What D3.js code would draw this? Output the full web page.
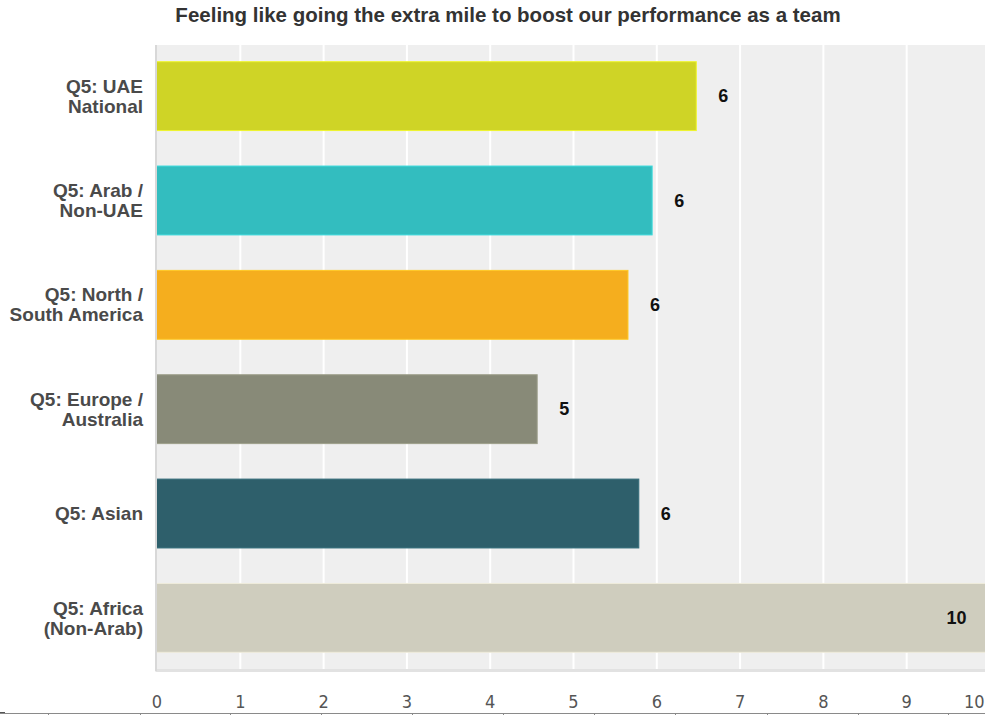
<!DOCTYPE html>
<html>
<head>
<meta charset="utf-8">
<script src="https://cdn.jsdelivr.net/npm/d3@7"></script>
<style>
  html, body { margin: 0; padding: 0; background: #fff; }
  svg { display: block; }
</style>
</head>
<body>
<script>
// Survey answers per respondent group
const categories = [
  ["Q5: UAE", "National"],
  ["Q5: Arab /", "Non-UAE"],
  ["Q5: North /", "South America"],
  ["Q5: Europe /", "Australia"],
  ["Q5: Asian"],
  ["Q5: Africa", "(Non-Arab)"]
];
const values = [6.48, 5.95, 5.66, 4.57, 5.79, 10];
const barColors = ["#cfd426", "#33bdbf", "#f5ae1e", "#888a78", "#2e5f6b", "#cfcdbe"];
const tickValues = [0, 1, 2, 3, 4, 5, 6, 7, 8, 9, 10];
const title = "Feeling like going the extra mile to boost our performance as a team";

const W = 985, H = 715;
const plot = { left: 156.5, right: 989.5, top: 45, bottom: 669 };

const svg = d3.select("body").append("svg").attr("width", W).attr("height", H);

const x = d3.scaleLinear().domain([0, 10]).range([plot.left, plot.right]);
const y = d3.scaleBand()
  .domain(d3.range(categories.length))
  .range([plot.top, plot.bottom])
  .paddingInner(0.34)
  .paddingOuter(0.16);

// drop shadow under the plot panel
svg.append("rect")
  .attr("x", plot.left - 1).attr("y", plot.top)
  .attr("width", plot.right - plot.left + 1).attr("height", plot.bottom - plot.top + 3)
  .attr("fill", "#e2e2e2");

// plot panel
svg.append("rect")
  .attr("x", plot.left).attr("y", plot.top)
  .attr("width", plot.right - plot.left).attr("height", plot.bottom - plot.top)
  .attr("fill", "#efefef");

// vertical gridlines
svg.append("g")
  .attr("transform", `translate(0,${plot.top})`)
  .call(d3.axisTop(x).tickValues(tickValues.slice(1)).tickSize(-(plot.bottom - plot.top)).tickFormat(""))
  .call(g => g.select(".domain").remove())
  .call(g => g.selectAll(".tick line").attr("stroke", "#ffffff").attr("stroke-width", 2));

// bars
svg.append("g").selectAll("rect")
  .data(values)
  .join("rect")
  .attr("x", x(0))
  .attr("y", (d, i) => y(i))
  .attr("width", d => x(d) - x(0))
  .attr("height", y.bandwidth())
  .attr("fill", (d, i) => barColors[i])
  .attr("stroke", (d, i) => d3.color(barColors[i]).brighter(0.4))
  .attr("stroke-width", 1);

// left edge of the panel
svg.append("line")
  .attr("x1", plot.left - 0.5).attr("x2", plot.left - 0.5)
  .attr("y1", plot.top).attr("y2", plot.bottom + 2)
  .attr("stroke", "#d8d8d8").attr("stroke-width", 2);

// value labels
svg.append("g").selectAll("text")
  .data(values)
  .join("text")
  .attr("x", d => d >= 9.5 ? x(d) - 23 : x(d) + 22)
  .attr("y", (d, i) => y(i) + y.bandwidth() / 2)
  .attr("dy", "0.35em")
  .attr("text-anchor", d => d >= 9.5 ? "end" : "start")
  .attr("font-family", "Liberation Sans, Arial, sans-serif")
  .attr("font-weight", "bold")
  .attr("font-size", 18)
  .attr("fill", "#111")
  .text(d => d3.format(".0f")(d));

// category labels
const catG = svg.append("g").selectAll("text")
  .data(categories)
  .join("text")
  .attr("x", 143)
  .attr("y", (d, i) => y(i) + y.bandwidth() / 2 - (d.length - 1) * 10)
  .attr("text-anchor", "end")
  .attr("font-family", "Liberation Sans, Arial, sans-serif")
  .attr("font-weight", "bold")
  .attr("font-size", 19)
  .attr("fill", "#4a4a4a");
catG.selectAll("tspan")
  .data(d => d)
  .join("tspan")
  .attr("x", 143)
  .attr("dy", (d, j) => j === 0 ? "0.35em" : 20)
  .text(d => d);

// x-axis tick labels; the last one is kept inside the page edge
svg.append("g")
  .attr("transform", `translate(0,${plot.bottom})`)
  .call(d3.axisBottom(x).tickValues(tickValues).tickSize(0).tickPadding(26).tickFormat(d3.format("d")))
  .call(g => g.select(".domain").remove())
  .call(g => g.selectAll("text")
    .attr("font-family", "Liberation Sans Narrow, DejaVu Sans Condensed, Arial, sans-serif")
    .attr("font-size", 18)
    .attr("fill", "#555"))
  .call(g => g.selectAll(".tick")
    .filter(d => x(d) > W - 8)
    .select("text")
    .attr("text-anchor", "end")
    .attr("x", d => W - 1 - x(d)));

// title
svg.append("text")
  .attr("x", 508).attr("y", 22)
  .attr("text-anchor", "middle")
  .attr("font-family", "Liberation Sans, Arial, sans-serif")
  .attr("font-weight", "bold")
  .attr("font-size", 20.5)
  .attr("fill", "#333")
  .text(title);

// page ruler along the bottom edge
const rulerTicks = [48, 140, 230, 321, 412, 503, 594, 675, 767, 858, 948];
svg.append("line")
  .attr("x1", 0).attr("x2", W).attr("y1", 713.5).attr("y2", 713.5)
  .attr("stroke", "#8a8a8a").attr("stroke-width", 1);
svg.append("line")
  .attr("x1", 0).attr("x2", 5).attr("y1", 712.5).attr("y2", 712.5)
  .attr("stroke", "#555").attr("stroke-width", 1);
svg.append("g").selectAll("line")
  .data(rulerTicks)
  .join("line")
  .attr("x1", d => d + 0.5).attr("x2", d => d + 0.5)
  .attr("y1", 713.5).attr("y2", 715)
  .attr("stroke", "#8a8a8a");
</script>
</body>
</html>
